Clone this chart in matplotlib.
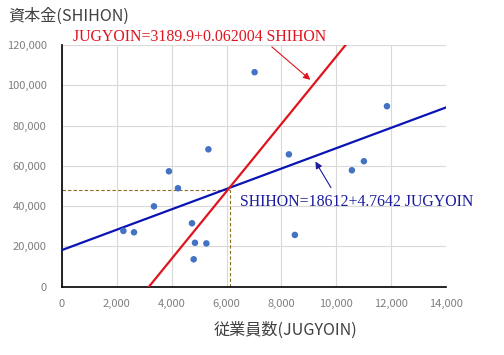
import matplotlib
matplotlib.use("Agg")
import matplotlib.pyplot as plt

plt.rcParams['font.family'] = ['Noto Sans CJK JP', 'DejaVu Sans']

# data
jugyoin = [2238, 2625, 3353, 3899, 4228, 4739, 4848, 4801, 5264, 5337,
           7022, 8272, 8491, 10569, 11007, 11847]
shihon = [27700, 27000, 39900, 57300, 48900, 31500, 21800, 13600, 21500, 68200,
          106500, 65700, 25700, 57800, 62300, 89600]
blue_line_x = [0, 14000]
blue_line_y = [18200, 89000]
red_line_x = [3170, 10340]
red_line_y = [0, 120000]
mean_x = 6125
mean_y = 48000
x_ticks = [0, 2000, 4000, 6000, 8000, 10000, 12000, 14000]
y_ticks = [0, 20000, 40000, 60000, 80000, 100000, 120000]
red_eq = "JUGYOIN=3189.9+0.062004 SHIHON"
blue_eq = "SHIHON=18612+4.7642 JUGYOIN"

fig = plt.figure(figsize=(5.04, 3.55), dpi=100)
ax = fig.add_axes([62/504, 1-286.7/355, (445.3-61.3)/504, (286.7-45)/355])
ax.set_xlim(0, 14000)
ax.set_ylim(0, 120000)
ax.set_xticks(x_ticks)
ax.set_yticks(y_ticks)
ax.set_xticklabels([f"{v:,}" for v in x_ticks])
ax.set_yticklabels([f"{v:,}" for v in y_ticks])
ax.tick_params(axis='both', length=0, labelsize=8, colors='#7f7f7f')
ax.tick_params(axis='x', pad=9)
ax.tick_params(axis='y', pad=11)
ax.grid(True, color='#d9d9d9', linewidth=0.8)
ax.set_axisbelow(True)
for s in ['top', 'right']:
    ax.spines[s].set_visible(False)
for s in ['left', 'bottom']:
    ax.spines[s].set_color('black')
    ax.spines[s].set_linewidth(1.2)

ax.plot([0, mean_x], [mean_y, mean_y], color='#8c6d1f', linestyle=(0, (3, 2)), linewidth=0.8, zorder=2)
ax.plot([mean_x, mean_x], [0, mean_y], color='#8c6d1f', linestyle=(0, (3, 2)), linewidth=0.8, zorder=2)

ax.plot(blue_line_x, blue_line_y, color='#0a14b4', linewidth=1.6, zorder=3)
ax.plot(red_line_x, red_line_y, color='#e0141e', linewidth=1.6, zorder=3)

ax.scatter(jugyoin, shihon, s=22, color='#4472C4', zorder=4, edgecolors='none')

serif = ['Liberation Serif', 'DejaVu Serif']
ax.text(390, 124000, red_eq, color='#e0141e', fontsize=11.4, family=serif,
        va='center', ha='left', clip_on=False)
ax.text(6500, 41900, blue_eq, color='#1a1a9c', fontsize=11.4, family=serif,
        va='center', ha='left')

ax.annotate('', xy=(9129, 101800), xytext=(7572, 120000),
            arrowprops=dict(arrowstyle='-|>', color='#e0141e', lw=0.8, mutation_scale=10),
            annotation_clip=False)
ax.annotate('', xy=(9187, 63300), xytext=(9858, 48000),
            arrowprops=dict(arrowstyle='-|>', color='#1a1a9c', lw=0.8, mutation_scale=10))

fig.text(8/504, 1-16/355, "資本金(SHIHON)", fontsize=11.6, color='#404040', va='center', ha='left')
fig.text(286/504, 1-330/355, "従業員数(JUGYOIN)", fontsize=11.6, color='#404040', va='center', ha='center')

fig.savefig("out.png", dpi=100)
